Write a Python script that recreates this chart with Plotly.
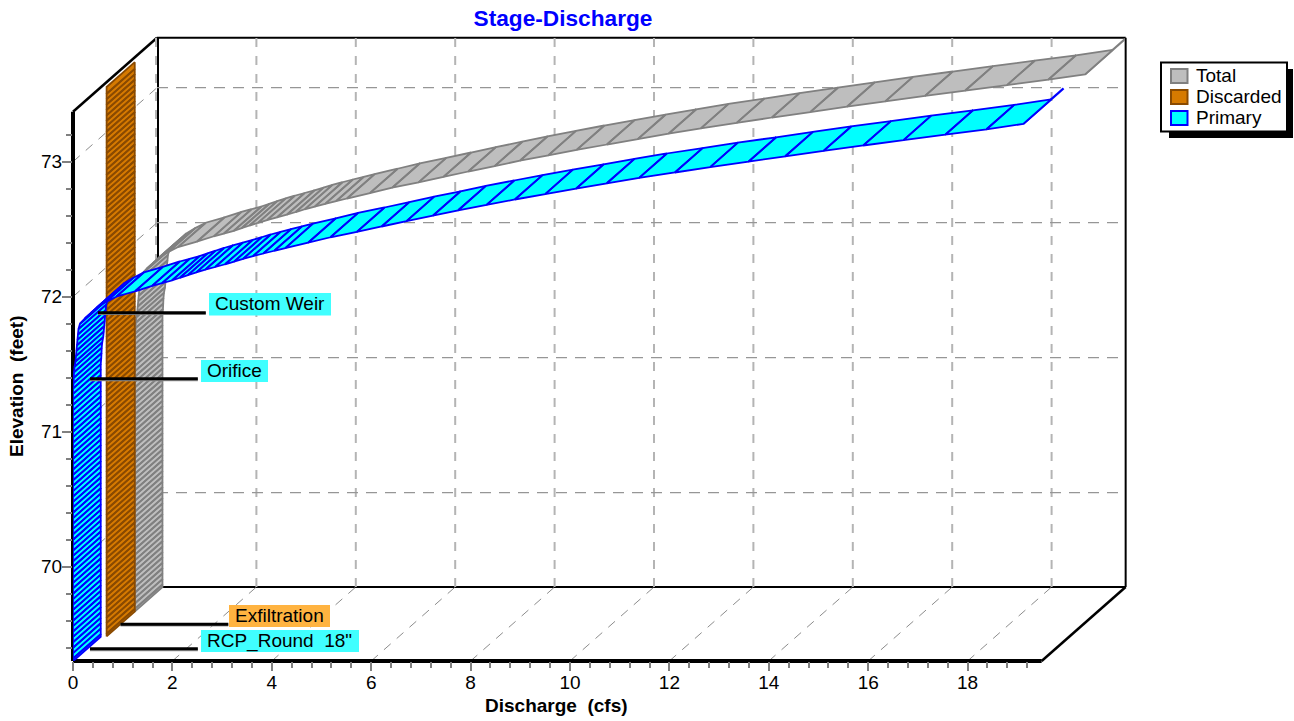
import plotly.graph_objects as go

ELEVATION = [69.30, 69.32, 69.36, 69.40, 69.44, 69.48, 69.52, 69.56, 69.60, 69.64, 69.68, 69.72, 69.76, 69.80, 69.84,
             69.88, 69.92, 69.96, 70.00, 70.04, 70.08, 70.12, 70.16, 70.20, 70.24, 70.28, 70.32, 70.36, 70.40, 70.44,
             70.48, 70.52, 70.56, 70.60, 70.64, 70.68, 70.72, 70.76, 70.80, 70.84, 70.88, 70.92, 70.96, 71.00, 71.04,
             71.08, 71.12, 71.16, 71.20, 71.24, 71.28, 71.32, 71.36, 71.40, 71.44, 71.48, 71.52, 71.56, 71.60, 71.64,
             71.68, 71.72, 71.76, 71.80, 71.84, 71.88, 71.92, 71.96, 72.00, 72.04, 72.08, 72.10, 72.12, 72.14, 72.16,
             72.18, 72.20, 72.22, 72.24, 72.26, 72.28, 72.30, 72.32, 72.34, 72.36, 72.40, 72.44, 72.48, 72.52, 72.56,
             72.60, 72.64, 72.68, 72.72, 72.76, 72.80, 72.84, 72.88, 72.92, 72.96, 73.00, 73.04, 73.08, 73.12, 73.16,
             73.20, 73.24, 73.28]
PRIMARY = [0.0] * 51 + [
    0.0, 0.01, 0.015, 0.02, 0.03, 0.05, 0.06, 0.07, 0.08, 0.09, 0.10, 0.11, 0.14, 0.24, 0.36, 0.48, 0.66, 0.87,
    1.25, 1.59, 1.79, 1.99, 2.15, 2.31, 2.48, 2.66, 2.86, 3.06, 3.24, 3.42, 3.62, 3.83, 4.05, 4.27, 4.73, 5.18,
    5.71, 6.21, 6.71, 7.24, 7.75, 8.32, 8.89, 9.50, 10.12, 10.74, 11.39, 12.11, 12.82, 13.59, 14.33, 15.10, 15.90,
    16.71, 17.55, 18.38, 19.12]
TOTAL = [0.11] * 51 + [
    0.11, 0.12, 0.125, 0.13, 0.14, 0.16, 0.17, 0.18, 0.19, 0.20, 0.21, 0.22, 0.25, 0.35, 0.47, 0.59, 0.77, 0.98,
    1.36, 1.70, 1.90, 2.10, 2.26, 2.42, 2.59, 2.77, 2.97, 3.17, 3.35, 3.53, 3.73, 3.94, 4.16, 4.38, 4.84, 5.29,
    5.82, 6.32, 6.82, 7.35, 7.86, 8.43, 9.00, 9.61, 10.23, 10.85, 11.50, 12.22, 12.93, 13.70, 14.44, 15.21, 16.01,
    16.82, 17.66, 18.49, 19.23]
DISC_ELEVATION = [69.30, 69.32, 69.36, 69.40, 69.44, 69.48, 69.52, 69.56, 69.60, 69.64, 69.68, 69.72, 69.76, 69.80,
                  69.84, 69.88, 69.92, 69.96, 70.00, 70.04, 70.08, 70.12, 70.16, 70.20, 70.24, 70.28, 70.32, 70.36,
                  70.40, 70.44, 70.48, 70.52, 70.56, 70.60, 70.64, 70.68, 70.72, 70.76, 70.80, 70.84, 70.88, 70.92,
                  70.96, 71.00, 71.04, 71.08, 71.12, 71.16, 71.20, 71.24, 71.28, 71.32, 71.36, 71.40, 71.44, 71.48,
                  71.52, 71.56, 71.60, 71.64, 71.68, 71.72, 71.76, 71.80, 71.84, 71.88, 71.92, 71.96, 72.00, 72.04,
                  72.08, 72.12, 72.16, 72.20, 72.24, 72.28, 72.32, 72.36, 72.40, 72.44, 72.48, 72.52, 72.56, 72.60,
                  72.64, 72.68, 72.72, 72.76, 72.80, 72.84, 72.88, 72.92, 72.96, 73.00, 73.04, 73.08, 73.12, 73.16,
                  73.20, 73.24, 73.28, 73.32, 73.37]
DISCARDED = [0.11] * 103

X_TICKS = [0, 2, 4, 6, 8, 10, 12, 14, 16, 18]
X_MINOR = [0.4, 0.8, 1.2, 1.6, 2.4, 2.8, 3.2, 3.6, 4.4, 4.8, 5.2, 5.6, 6.4, 6.8, 7.2, 7.6, 8.4, 8.8, 9.2, 9.6,
           10.4, 10.8, 11.2, 11.6, 12.4, 12.8, 13.2, 13.6, 14.4, 14.8, 15.2, 15.6, 16.4, 16.8, 17.2, 17.6,
           18.4, 18.8, 19.2]
Y_TICKS = [70, 71, 72, 73]
Y_MINOR = [69.4, 69.6, 69.8, 70.2, 70.4, 70.6, 70.8, 71.2, 71.4, 71.6, 71.8, 72.2, 72.4, 72.6, 72.8, 73.2]
SERIES_NAMES = ["Total", "Discarded", "Primary"]

W, H = 1294, 721
L, R, T, B = 73, 1125, 38, 661
UX, UY = 49.7, 135.0
X_MAX = (R - L) / UX
Y_MIN = 70 - (B - 566.7) / UY
Y_MAX = 70 + (566.7 - T) / UY
FRONT_X_END = 19.49
FRONT_Y_TOP = 73.37
DX, DY = 84 / UX, 74 / UY     # projected size of the full chart depth, in axis units
FONT = "Liberation Sans"
FS = 19


def project(q, e, z):
    return q + z * DX, e + z * DY


def ribbon(qs, es, z0, z1, fill, line, name):
    xs, ys = [], []
    for i in range(len(qs) - 1):
        a = project(qs[i], es[i], z0)
        b = project(qs[i + 1], es[i + 1], z0)
        c = project(qs[i + 1], es[i + 1], z1)
        d = project(qs[i], es[i], z1)
        xs += [a[0], b[0], c[0], d[0], a[0], None]
        ys += [a[1], b[1], c[1], d[1], a[1], None]
    return go.Scatter(x=xs, y=ys, mode="lines", fill="toself", fillcolor=fill, name=name, showlegend=False,
                      line=dict(color=line, width=1.8, simplify=False), hoverinfo="skip")


def tail(q, e, z0, dz, line):
    a, b = project(q, e, z0), project(q, e, z0 + dz)
    return go.Scatter(x=[a[0], b[0]], y=[a[1], b[1]], mode="lines", showlegend=False,
                      line=dict(color=line, width=2.2), hoverinfo="skip")


C_TOTAL = ("#bebebe", "#808080")
C_DISC = ("#d67a00", "#8a4a00")
C_PRIM = ("#00ffff", "#0000ff")

fig = go.Figure()
fig.add_trace(tail(TOTAL[-1], ELEVATION[-1], 0.67, 0.48, C_TOTAL[1]))
fig.add_trace(ribbon(TOTAL, ELEVATION, 0.67, 1.0, C_TOTAL[0], C_TOTAL[1], SERIES_NAMES[0]))
fig.add_trace(ribbon(DISCARDED, DISC_ELEVATION, 0.335, 0.67, C_DISC[0], C_DISC[1], SERIES_NAMES[1]))
fig.add_trace(tail(PRIMARY[-1], ELEVATION[-1], 0.0, 0.48, C_PRIM[1]))
fig.add_trace(ribbon(PRIMARY, ELEVATION, 0.0, 0.33, C_PRIM[0], C_PRIM[1], SERIES_NAMES[2]))

shapes = []


def seg(p, q, color, width, dash="solid", layer="below"):
    # paper coordinates are not clipped at the plot edge, so the heavy frame lines keep their full width
    shapes.append(dict(type="line", xref="paper", yref="paper", layer=layer,
                       x0=p[0] / X_MAX, y0=(p[1] - Y_MIN) / (Y_MAX - Y_MIN),
                       x1=q[0] / X_MAX, y1=(q[1] - Y_MIN) / (Y_MAX - Y_MIN),
                       line=dict(color=color, width=width, dash=dash)))


def nudge(p, dx):
    return p[0] + dx / UX, p[1]


# frame
seg(project(0, Y_MIN, 1), project(FRONT_X_END, Y_MIN, 1), "#000000", 2)
seg(project(0, FRONT_Y_TOP, 1), project(FRONT_X_END, FRONT_Y_TOP, 1), "#000000", 2)
seg(nudge(project(0, Y_MIN, 1), 1), nudge(project(0, FRONT_Y_TOP, 1), 1), "#000000", 2)
seg(project(FRONT_X_END, Y_MIN, 1), project(FRONT_X_END, FRONT_Y_TOP, 1), "#000000", 2)
seg(project(0, FRONT_Y_TOP, 0), project(0, FRONT_Y_TOP, 1), "#000000", 2.5)
seg(project(FRONT_X_END, Y_MIN, 0), project(FRONT_X_END, Y_MIN, 1), "#000000", 2.5)
# dashed grid
for v in X_TICKS:
    seg(nudge(project(v, Y_MIN, 1), -1 if v == 0 else 0), nudge(project(v, FRONT_Y_TOP, 1), -1 if v == 0 else 0),
        "#b4b4b4", 2, "9px,9px")
    if v:
        seg(project(v, Y_MIN, 0), project(v, Y_MIN, 1), "#8c8c8c", 1, "9px,8px")
for v in Y_TICKS:
    seg(project(0, v, 1), project(FRONT_X_END, v, 1), "#969696", 1.2, "11px,8px")
    seg(project(0, v, 0), project(0, v, 1), "#8c8c8c", 1, "9px,8px")
# front axes
seg((0, Y_MIN), (0, FRONT_Y_TOP), "#000000", 4)
seg((0, Y_MIN), (FRONT_X_END, Y_MIN), "#000000", 4)


def px(x):
    return (x - L) / (R - L)


def py(y):
    return (B - y) / (B - T)


annotations = []


def text(x, y, s, size=FS, bold=False, color="#000000", anchor="left", angle=0):
    annotations.append(dict(x=px(x), y=py(y), xref="paper", yref="paper", text=f"<b>{s}</b>" if bold else s,
                            showarrow=False, xanchor=anchor, yanchor="middle", textangle=angle, borderpad=0,
                            font=dict(family=FONT, size=size, color=color)))


def box(x0, y0, x1, y1, fill, line=None, width=0):
    shapes.append(dict(type="rect", xref="paper", yref="paper", x0=px(x0), x1=px(x1), y0=py(y0), y1=py(y1),
                       layer="above", fillcolor=fill, line=dict(color=line or fill, width=width)))


# call-outs: leader starts at the device's invert on the ribbon
LEADER_LEN = 2.17
for q, e, z in [(0.22, 71.79, 1 / 6), (0.06, 71.30, 1 / 6), (0.11, 69.30, 0.5), (0.06, 69.30, 1 / 6)]:
    a = project(q, e, z)
    seg((a[0], a[1] - 0.006), (a[0] + LEADER_LEN, a[1] - 0.006), "#999999", 3, layer="above")
    seg(a, (a[0] + LEADER_LEN, a[1]), "#000000", 3, layer="above")
for x0, y0, x1, y1, fill, s in [(209, 293, 331, 315.5, "#40ffff", "Custom Weir"),
                                (201, 360, 268, 382, "#40ffff", "Orifice"),
                                (229, 605, 330, 627, "#ffb340", "Exfiltration"),
                                (201, 630, 359, 652, "#40ffff", 'RCP_Round  18"')]:
    box(x0, y0, x1, y1, fill)
    text(x0 + 4.5, (y0 + y1) / 2 - 0.5, s)

# legend
box(1169, 69, 1293, 138, "#000000")
box(1161, 62.5, 1287, 131.5, "#ffffff", "#000000", 2)
for name, (fill, line), y in zip(SERIES_NAMES, (C_TOTAL, C_DISC, C_PRIM), (76, 97, 118)):
    box(1171, y - 7, 1187.5, y + 7, fill, line, 2)
    text(1194.5, y - 0.5, name)

text(556.5, 705, "Discharge  (cfs)", bold=True, anchor="center")
text(17, 387, "Elevation  (feet)", bold=True, anchor="center", angle=-90)

fig.update_layout(
    width=W, height=H, margin=dict(l=L, r=W - R, t=T, b=H - B, pad=0, autoexpand=False),
    paper_bgcolor="#ffffff", plot_bgcolor="#ffffff", showlegend=False,
    font=dict(family=FONT, size=FS, color="#000000"),
    title=dict(text="<b>Stage-Discharge</b>", x=563 / W, y=1 - 18.5 / H, xanchor="center", yanchor="middle",
               font=dict(family=FONT, size=22.67, color="#0000ff")),
    shapes=shapes, annotations=annotations,
    xaxis=dict(range=[0, X_MAX], showgrid=False, zeroline=False, showline=False, tickmode="array",
               tickvals=X_TICKS, ticks="outside", ticklen=9, tickwidth=2, tickcolor="#808080",
               ticklabelstandoff=-5,
               minor=dict(tickmode="array", tickvals=X_MINOR, ticks="outside", ticklen=6, tickwidth=2,
                          tickcolor="#808080", showgrid=False),
               tickfont=dict(size=FS, family=FONT), automargin=False),
    yaxis=dict(range=[Y_MIN, Y_MAX], showgrid=False, zeroline=False, showline=False, tickmode="array",
               tickvals=Y_TICKS, ticks="outside", ticklen=10, tickwidth=2, tickcolor="#808080",
               ticklabelstandoff=-4,
               minor=dict(tickmode="array", tickvals=Y_MINOR, ticks="outside", ticklen=6, tickwidth=2,
                          tickcolor="#808080", showgrid=False),
               tickfont=dict(size=FS, family=FONT), automargin=False),
)
fig.write_html("out.html", config={"displayModeBar": False},
               post_script="document.body.style.margin='0';document.body.style.overflow='hidden';")
